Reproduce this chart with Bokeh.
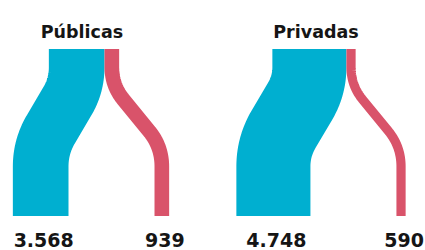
from bokeh.plotting import figure
from bokeh.models import Range1d
from bokeh.core.properties import value
from bokeh.embed import file_html
from bokeh.resources import INLINE

# ---- data ----
categories = ["Públicas", "Privadas"]
left_values = [3568, 4748]    # cyan flow
right_values = [939, 590]     # red flow

# ---- style / layout ----
CYAN = "#00AFD0"
RED = "#D9536A"
TEXT = "#151515"
W, H = 425, 250
K = 0.0156            # px per unit
PANEL_CX = [83.5, 313.5]
TITLE_DX = [-2.0, 2.0]
Y_TOP, Y1, Y2, Y_BOT = 48.5, 85.0, 146.0, 215.5
SHIFT_LEFT, SHIFT_RIGHT = -36.0, 50.0
RADIUS = 20.0
LABEL_DX = 3.0


def fmt(v):
    return f"{v:,}".replace(",", ".")


def rounded_path(pts, r, n=24):
    """Polyline with corners replaced by quadratic curves."""
    out_x, out_y = [pts[0][0]], [pts[0][1]]
    for i in range(1, len(pts) - 1):
        (ax, ay), (cx, cy), (bx, by) = pts[i - 1], pts[i], pts[i + 1]
        d1 = ((cx - ax) ** 2 + (cy - ay) ** 2) ** 0.5
        d2 = ((bx - cx) ** 2 + (by - cy) ** 2) ** 0.5
        t = min(r, d1 / 2, d2 / 2)
        sx, sy = cx - (cx - ax) / d1 * t, cy - (cy - ay) / d1 * t
        ex, ey = cx + (bx - cx) / d2 * t, cy + (by - cy) / d2 * t
        for j in range(n + 1):
            u = j / n
            out_x.append((1 - u) ** 2 * sx + 2 * (1 - u) * u * cx + u ** 2 * ex)
            out_y.append((1 - u) ** 2 * sy + 2 * (1 - u) * u * cy + u ** 2 * ey)
    out_x.append(pts[-1][0])
    out_y.append(pts[-1][1])
    return out_x, out_y


p = figure(width=W, height=H, x_range=Range1d(0, W), y_range=Range1d(H, 0),
           output_backend="svg", toolbar_location=None, min_border=0)
p.axis.visible = False
p.grid.visible = False
p.outline_line_color = None
p.background_fill_color = "white"
p.border_fill_color = "white"

title_x, title_y, title_t = [], [], []
lab_x, lab_y, lab_t = [], [], []

for cat, a, b, cx, tdx in zip(categories, left_values, right_values, PANEL_CX, TITLE_DX):
    wa, wb = a * K, b * K
    left = cx - (wa + wb) / 2
    xa_top = left + wa / 2
    xb_top = left + wa + wb / 2
    for x_top, w, shift, col in ((xa_top, wa, SHIFT_LEFT, CYAN), (xb_top, wb, SHIFT_RIGHT, RED)):
        x_bot = x_top + shift
        xs, ys = rounded_path([(x_top, Y_TOP), (x_top, Y1), (x_bot, Y2), (x_bot, Y_BOT)], RADIUS)
        p.line(xs, ys, line_width=w, line_color=col, line_cap="butt", line_join="round")
    title_x.append(cx + tdx)
    title_y.append(31.5)
    title_t.append(cat)
    for x_top, shift, v in ((xa_top, SHIFT_LEFT, a), (xb_top, SHIFT_RIGHT, b)):
        lab_x.append(x_top + shift + LABEL_DX)
        lab_y.append(239)
        lab_t.append(fmt(v))

p.text(x=title_x, y=title_y, text=title_t, text_font=value("DejaVu Sans"),
       text_font_style="bold", text_font_size="17.5px", text_align="center",
       text_baseline="alphabetic", text_color=TEXT)
p.text(x=lab_x, y=lab_y, text=lab_t, text_font=value("DejaVu Sans"),
       text_font_style="bold", text_font_size="19px", text_align="center",
       text_baseline="alphabetic", text_color=TEXT)

open("out.html", "w").write(file_html(p, INLINE))
